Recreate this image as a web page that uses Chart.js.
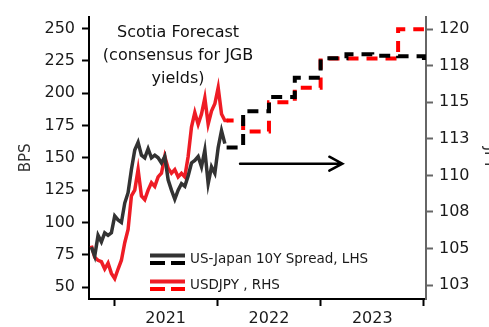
<!DOCTYPE html>
<html>
<head>
<meta charset="utf-8">
<script src="https://cdn.jsdelivr.net/npm/chart.js@4.4.1/dist/chart.umd.min.js"></script>
<style>
  html, body { margin: 0; padding: 0; background: #fff; }
  #wrap { width: 489px; height: 327px; }
</style>
</head>
<body>
<div id="wrap"><canvas id="myChart" width="489" height="327"></canvas></div>
<script>
// history, one reading roughly every 12 days from early Oct 2020
const histStart = 2020.781;
const histStep = 0.0323;
const spreadHist = [81, 74, 90, 85, 92, 90, 92, 105, 102, 100, 115, 123, 141, 156, 162, 152, 150, 157, 150, 152,
  150, 146, 151, 133, 125, 118, 125, 130, 128, 136, 146, 148, 151, 143, 156, 130, 143, 138, 158, 171, 161];
const usdjpyHist = [105.2, 104.4, 104.2, 104.1, 103.6, 104.0, 103.3, 102.95, 103.6, 104.2, 105.4, 106.3, 108.6, 109.0,
  110.4, 108.6, 108.35, 109.0, 109.5, 109.25, 109.9, 110.15, 111.3, 110.5, 110.15, 110.4, 109.9, 110.15, 109.9, 111.3,
  113.3, 114.3, 113.5, 114.2, 115.3, 113.5, 114.4, 114.9, 116.0, 114.2, 113.75, 113.75];

// Scotia forecast (quarterly)
const fcDates = [2022.09, 2022.25, 2022.5, 2022.75, 2023.0, 2023.25, 2023.5, 2023.75, 2024.0];
const spreadFc = [158, 186, 197, 212, 227, 230, 229, 228.5, 225];
const usdjpyFc = [113.75, 113, 115, 116, 118, 118, 118, 120, 120];

// axes
const yearTicks = [2021, 2022, 2023, 2024];
const yearLabels = ['2021', '2022', '2023'];
const leftTicks = [50, 75, 100, 125, 150, 175, 200, 225, 250];
const rightTicks = [102.5, 105, 107.5, 110, 112.5, 115, 117.5, 120];
const rightTickLabels = ['103', '105', '108', '110', '113', '115', '118', '120'];

const noteLines = ['Scotia Forecast', '(consensus for JGB', 'yields)'];
const legendItems = [
  { text: 'US-Japan 10Y Spread, LHS', solid: '#333333', dash: '#000000' },
  { text: 'USDJPY , RHS', solid: '#ee1c25', dash: '#ff0000' }
];

const FONT = '"DejaVu Sans", sans-serif';

const hist = (vals) => vals.map((v, i) => ({ x: histStart + i * histStep, y: v }));
const fc = (vals) => vals.map((v, i) => ({ x: fcDates[i], y: v }));

// x ticks: year boundaries plus mid-year spots that carry the labels
const xTicks = [];
yearTicks.forEach((t, i) => {
  xTicks.push(t);
  if (i < yearTicks.length - 1) xTicks.push((t + yearTicks[i + 1]) / 2);
});

const notes = {
  id: 'notes',
  afterDatasetsDraw(chart) {
    const { ctx, chartArea, scales: { x, y, y2 } } = chart;
    ctx.save();

    // forecast note
    ctx.font = '16px ' + FONT;
    ctx.fillStyle = '#111';
    ctx.textAlign = 'center';
    ctx.textBaseline = 'middle';
    const nx = x.getPixelForValue(2021.62);
    const ny = y.getPixelForValue(247);
    noteLines.forEach((t, i) => ctx.fillText(t, nx, ny + i * 23));

    // arrow
    const ax0 = x.getPixelForValue(2022.22);
    const ax1 = x.getPixelForValue(2023.21);
    const ay = y2.getPixelForValue(110.8);
    ctx.strokeStyle = '#000';
    ctx.lineWidth = 2.5;
    ctx.lineCap = 'round';
    ctx.beginPath();
    ctx.moveTo(ax0, ay);
    ctx.lineTo(ax1, ay);
    ctx.moveTo(ax1 - 13, ay - 7);
    ctx.lineTo(ax1, ay);
    ctx.lineTo(ax1 - 13, ay + 7);
    ctx.stroke();

    // legend
    ctx.lineCap = 'butt';
    ctx.lineWidth = 4;
    ctx.textAlign = 'left';
    ctx.font = '13.5px ' + FONT;
    const lx = chartArea.left + 61;
    legendItems.forEach((it, i) => {
      const top = chartArea.bottom - 43.5 + i * 26;
      ctx.setLineDash([]);
      ctx.strokeStyle = it.solid;
      ctx.beginPath();
      ctx.moveTo(lx, top);
      ctx.lineTo(lx + 35, top);
      ctx.stroke();
      ctx.setLineDash([15, 6]);
      ctx.strokeStyle = it.dash;
      ctx.beginPath();
      ctx.moveTo(lx, top + 7.5);
      ctx.lineTo(lx + 35, top + 7.5);
      ctx.stroke();
      ctx.fillStyle = '#1a1a1a';
      ctx.fillText(it.text, lx + 40, top + 4);
    });
    ctx.restore();
  }
};

const ctx = document.getElementById('myChart').getContext('2d');

new Chart(ctx, {
  type: 'line',
  data: {
    datasets: [
      {
        data: fc(spreadFc),
        yAxisID: 'y',
        borderColor: '#000',
        borderWidth: 4,
        borderDash: [11, 8],
        stepped: true,
        pointRadius: 0,
        order: 1
      },
      {
        data: fc(usdjpyFc),
        yAxisID: 'y2',
        borderColor: '#ff0000',
        borderWidth: 4,
        borderDash: [11, 8],
        borderDashOffset: 4,
        stepped: true,
        pointRadius: 0,
        order: 2
      },
      {
        data: hist(spreadHist),
        yAxisID: 'y',
        borderColor: '#333333',
        borderWidth: 3.5,
        pointRadius: 0,
        tension: 0,
        order: 3
      },
      {
        data: hist(usdjpyHist),
        yAxisID: 'y2',
        borderColor: '#ee1c25',
        borderWidth: 3.5,
        pointRadius: 0,
        tension: 0,
        order: 4
      }
    ]
  },
  options: {
    responsive: false,
    animation: false,
    devicePixelRatio: 1,
    layout: { padding: { top: 13, left: 0, right: 0, bottom: 0 } },
    plugins: {
      legend: { display: false },
      tooltip: { enabled: false }
    },
    scales: {
      x: {
        type: 'linear',
        min: 2020.758,
        max: 2024.02,
        afterBuildTicks: (s) => { s.ticks = xTicks.map(v => ({ value: v })); },
        afterFit: (s) => { s.height = 28; },
        border: { display: true, color: '#000', width: 2 },
        grid: {
          drawOnChartArea: false,
          drawTicks: true,
          tickLength: 7,
          tickWidth: 2,
          tickColor: (c) => (c.tick && Number.isInteger(c.tick.value)) ? '#000' : 'rgba(0,0,0,0)'
        },
        ticks: {
          autoSkip: false,
          maxRotation: 0,
          padding: 3,
          color: '#1a1a1a',
          font: { family: FONT, size: 16 },
          callback: (v) => {
            const i = yearTicks.findIndex((t, k) => k < yearTicks.length - 1 && (t + yearTicks[k + 1]) / 2 === v);
            return i >= 0 ? yearLabels[i] : '';
          }
        }
      },
      y: {
        position: 'left',
        min: 40.8,
        max: 259.2,
        afterBuildTicks: (s) => { s.ticks = leftTicks.map(v => ({ value: v })); },
        afterFit: (s) => { s.width = 89; },
        border: { display: true, color: '#000', width: 2 },
        grid: { drawOnChartArea: false, drawTicks: true, tickLength: 7, tickWidth: 2, tickColor: '#000' },
        ticks: { padding: 7, color: '#1a1a1a', font: { family: FONT, size: 16 } },
        title: {
          display: true,
          text: 'BPS',
          color: '#333',
          font: { family: FONT, size: 15 },
          padding: { top: 17, bottom: 0 }
        }
      },
      y2: {
        position: 'right',
        min: 101.55,
        max: 120.86,
        afterBuildTicks: (s) => { s.ticks = rightTicks.map(v => ({ value: v })); },
        afterFit: (s) => { s.width = 63; },
        border: { display: true, color: '#666', width: 2 },
        grid: { drawOnChartArea: false, drawTicks: true, tickLength: 7, tickWidth: 2, tickColor: '#666' },
        ticks: {
          padding: 6,
          color: '#1a1a1a',
          font: { family: FONT, size: 16 },
          callback: (v) => {
            const i = rightTicks.indexOf(v);
            return i >= 0 ? rightTickLabels[i] : '';
          }
        },
        title: {
          display: true,
          text: 'JPY',
          color: '#333',
          font: { family: FONT, size: 15 },
          padding: { top: -9, bottom: 0 }
        }
      }
    }
  },
  plugins: [notes]
});
</script>
</body>
</html>
